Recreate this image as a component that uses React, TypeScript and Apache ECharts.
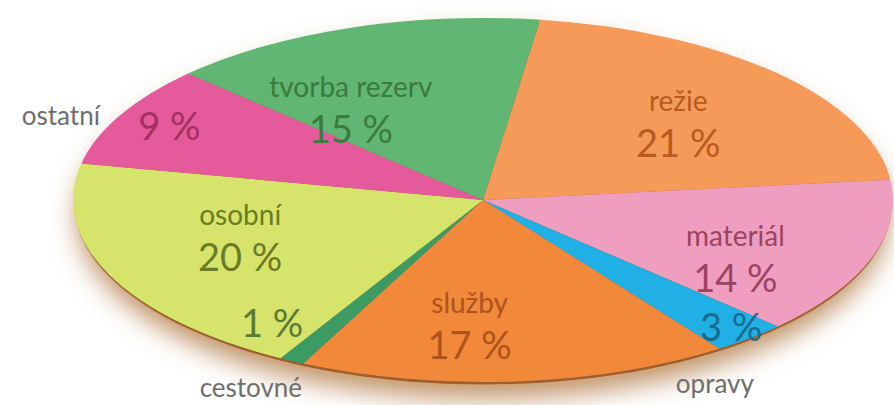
import React, { useEffect, useRef } from 'react';
import * as echarts from 'echarts';

// ---- data ----
const categories = ['režie', 'materiál', 'opravy', 'služby', 'cestovné', 'osobní', 'ostatní', 'tvorba rezerv'];
const shares = [21, 14, 3, 17, 1, 20, 9, 15];
const percentLabels = ['21 %', '14 %', '3 %', '17 %', '1 %', '20 %', '9 %', '15 %'];

// ---- styles / layout (not data) ----
const sliceColors = ['#f59a58', '#f09ec0', '#20b0e6', '#f2883a', '#3b9b63', '#d7e46c', '#e55a9b', '#60b672'];
const textColors = ['#b85a1e', '#9a4462', '#1c6a8e', '#b0521c', '#5a7a36', '#6b7a24', '#a3305f', '#3d7a3d'];
// inner text block: position along slice angle (t) and radial fraction (f)
const innerT = [0.53, 0.66, 0.45, 0.62, 3.2, 0.58, 0.52, 0.25];
const innerF = [0.64, 0.69, 0.92, 0.68, 0.845, 0.625, 0.87, 0.6];
// outside name (f = 0 means the name is inside)
const outerT = [0, 0, 1.54, 0, 0.78, 0, 0.46, 0];
const outerF = [0, 0, 1.153, 0, 1.175, 0, 1.044, 0];
const outerAlign = ['center', 'center', 'center', 'center', 'center', 'center', 'right', 'center'];

const W = 894;
const H = 405;
const CX = 483;
const CY = 200;
const RX = 410;
const RY = 182;
const FONT = 'Lato, Roboto, "Open Sans", sans-serif';

export default function App() {
  const ref = useRef<HTMLDivElement>(null);
  useEffect(() => {
    document.body.style.margin = '0';
    if (!ref.current) return;
    const chart = echarts.init(ref.current, null, { renderer: 'svg' });
    const total = shares.reduce((a, b) => a + b, 0);
    let acc = 0;
    const data = shares.map((v) => {
      const s = acc;
      acc += v;
      return [s, acc];
    });
    const k = RY / RX;

    const renderItem = (params: any, api: any) => {
      const i = params.dataIndex;
      const cs = params.coordSys;
      const cx = cs.cx;
      const cy = cs.cy;
      const r = cs.r;
      const p0 = api.coord([1, api.value(0)]);
      const p1 = api.coord([1, api.value(1)]);
      let a0 = Math.atan2(p0[1] - cy, p0[0] - cx);
      let a1 = Math.atan2(p1[1] - cy, p1[0] - cx);
      while (a1 <= a0 + 1e-6) a1 += Math.PI * 2;
      const at = (t: number, f: number) => {
        const a = a0 + (a1 - a0) * t;
        return [cx + f * r * Math.cos(a), cy + f * r * k * Math.sin(a)];
      };
      const children: any[] = [
        {
          type: 'group',
          x: cx,
          y: cy,
          scaleY: k,
          children: [
            {
              type: 'sector',
              shape: { cx: 0, cy: 0, r: r, r0: 0, startAngle: a0, endAngle: a1, clockwise: true },
              style: { fill: sliceColors[i] },
            },
          ],
        },
      ];
      const [ix, iy] = at(innerT[i], innerF[i]);
      if (outerF[i] > 0) {
        children.push({
          type: 'text',
          x: ix,
          y: iy,
          z2: 20,
          style: {
            text: percentLabels[i],
            fill: textColors[i],
            fontSize: 38,
            fontFamily: FONT,
            align: 'center',
            verticalAlign: 'middle',
          },
        });
        const [ox, oy] = at(outerT[i], outerF[i]);
        children.push({
          type: 'text',
          x: ox,
          y: oy,
          z2: 20,
          style: {
            text: categories[i],
            fill: '#6e6e6e',
            fontSize: 26,
            fontFamily: FONT,
            align: outerAlign[i],
            verticalAlign: 'middle',
          },
        });
      } else {
        children.push({
          type: 'text',
          x: ix,
          y: iy,
          z2: 20,
          style: {
            text: '{n|' + categories[i] + '}\n{p|' + percentLabels[i] + '}',
            fill: textColors[i],
            fontFamily: FONT,
            align: 'center',
            verticalAlign: 'middle',
            rich: {
              n: { fontSize: 28, lineHeight: 40, fill: textColors[i], fontFamily: FONT },
              p: { fontSize: 38, lineHeight: 44, fill: textColors[i], fontFamily: FONT },
            },
          },
        });
      }
      return { type: 'group', children };
    };

    chart.setOption({
      animation: false,
      backgroundColor: '#ffffff',
      polar: { center: [CX, CY], radius: RX },
      angleAxis: {
        type: 'value',
        min: 0,
        max: total,
        startAngle: 82,
        clockwise: true,
        show: false,
      },
      radiusAxis: { type: 'value', min: 0, max: 1, show: false },
      graphic: [
        {
          type: 'ellipse',
          z: 0,
          shape: { cx: CX, cy: CY + 6, rx: RX - 4, ry: RY },
          style: {
            fill: '#d2a77c',
            shadowBlur: 26,
            shadowColor: 'rgba(170,110,55,0.75)',
            shadowOffsetY: 10,
          },
        },
        {
          type: 'ellipse',
          z: 1,
          shape: { cx: CX, cy: CY + 2.5, rx: RX - 1, ry: RY },
          style: { fill: '#9c5f33' },
        },
      ],
      series: [
        {
          type: 'custom',
          coordinateSystem: 'polar',
          renderItem,
          data,
          z: 5,
        },
      ],
    });
    return () => chart.dispose();
  }, []);
  return <div ref={ref} style={{ width: W, height: H }} />;
}
